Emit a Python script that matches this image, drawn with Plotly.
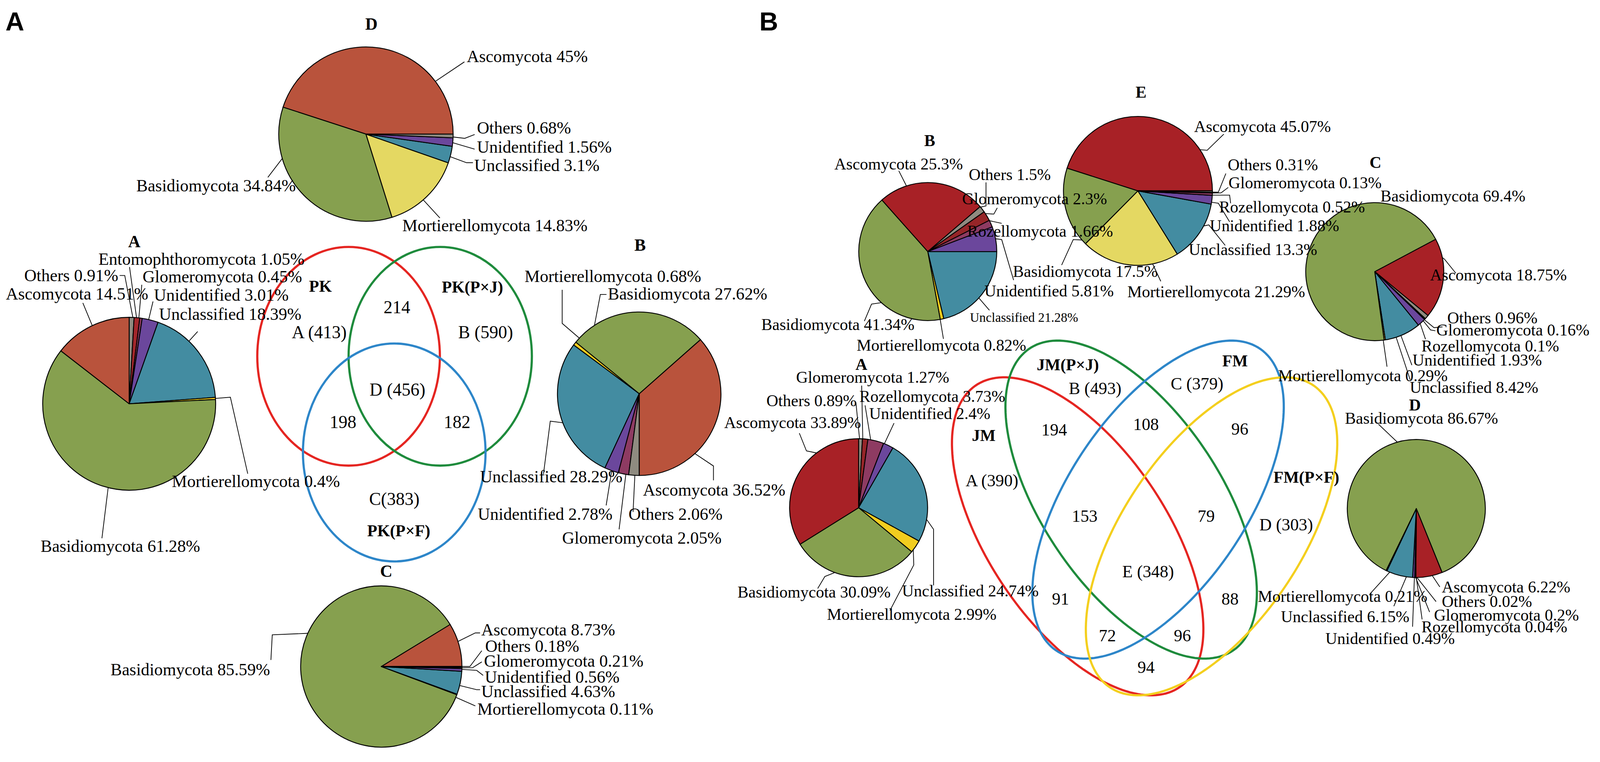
import numpy as np
import plotly.graph_objects as go

# design space = reference pixels
W, H = 4678, 1951
# the browser viewport that is photographed is ~4096 x 1951 css px (body margin 8 px)
FIG_W, FIG_H = 4080, 1930
SX, SY = FIG_W / W, FIG_H / H          # design px -> css px
FS = 0.875                              # font scale (keeps text widths like the reference)
PR = 0.93                               # pie radius scale in css px
LW = 0.93                               # line-width scale

# ------------------------------------------------------------------ data
# Panel A (PK)  -- slices in drawing order
pa_D_labels = ["Ascomycota", "Basidiomycota", "Mortierellomycota", "Unclassified", "Unidentified", "Others"]
pa_D_values = [45, 34.84, 14.83, 3.1, 1.56, 0.68]

pa_A_labels = ["Others", "Entomophthoromycota", "Glomeromycota", "Unidentified", "Unclassified",
               "Mortierellomycota", "Basidiomycota", "Ascomycota"]
pa_A_values = [0.91, 1.05, 0.45, 3.01, 18.39, 0.4, 61.28, 14.51]

pa_B_labels = ["Ascomycota", "Basidiomycota", "Mortierellomycota", "Unclassified", "Unidentified",
               "Glomeromycota", "Others"]
pa_B_values = [36.52, 27.62, 0.68, 28.29, 2.78, 2.05, 2.06]

pa_C_labels = ["Ascomycota", "Basidiomycota", "Mortierellomycota", "Unclassified", "Unidentified",
               "Glomeromycota", "Others"]
pa_C_values = [8.73, 85.59, 0.11, 4.63, 0.56, 0.21, 0.18]

# Panel B (JM / FM)
pb_B_labels = ["Unclassified", "Mortierellomycota", "Basidiomycota", "Ascomycota", "Others",
               "Glomeromycota", "Rozellomycota", "Unidentified"]
pb_B_values = [21.28, 0.82, 41.34, 25.3, 1.5, 2.3, 1.66, 5.81]

pb_E_labels = ["Ascomycota", "Basidiomycota", "Mortierellomycota", "Unclassified", "Unidentified",
               "Rozellomycota", "Glomeromycota", "Others"]
pb_E_values = [45.07, 17.5, 21.29, 13.3, 1.88, 0.52, 0.13, 0.31]

pb_C_labels = ["Ascomycota", "Others", "Glomeromycota", "Rozellomycota", "Unidentified",
               "Unclassified", "Mortierellomycota", "Basidiomycota"]
pb_C_values = [18.75, 0.96, 0.16, 0.1, 1.93, 8.42, 0.29, 69.4]

pb_A_labels = ["Others", "Glomeromycota", "Rozellomycota", "Unidentified", "Unclassified",
               "Mortierellomycota", "Basidiomycota", "Ascomycota"]
pb_A_values = [0.89, 1.27, 3.73, 2.4, 24.74, 2.99, 30.09, 33.89]

pb_D_labels = ["Ascomycota", "Others", "Glomeromycota", "Rozellomycota", "Unidentified",
               "Unclassified", "Mortierellomycota", "Basidiomycota"]
pb_D_values = [6.22, 0.02, 0.2, 0.04, 0.49, 6.15, 0.21, 86.67]

# Venn diagrams
venn_a_sets = ["PK", "PK(P×J)", "PK(P×F)"]
venn_a_region_text = ["A (413)", "B (590)", "C(383)", "214", "198", "182", "D (456)"]
venn_b_sets = ["JM", "JM(P×J)", "FM", "FM(P×F)"]
venn_b_region_text = ["A (390)", "B (493)", "C (379)", "D (303)", "194", "108", "96", "153",
                      "79", "E (348)", "91", "88", "72", "96", "94"]

# ------------------------------------------------------------------ styles
colA = {"Ascomycota": "#B9533C", "Basidiomycota": "#86A04F", "Unclassified": "#438CA1",
        "Unidentified": "#6B479C", "Others": "#8F8B80", "Mortierellomycota": "#F2CD1F",
        "Entomophthoromycota": "#A3272B", "Glomeromycota": "#8E3B62"}
colB = {"Ascomycota": "#A82126", "Basidiomycota": "#86A04F", "Unclassified": "#438CA1",
        "Unidentified": "#6B479C", "Others": "#8F8B80", "Mortierellomycota": "#F2CD1F",
        "Glomeromycota": "#962528", "Rozellomycota": "#8E3B62"}
PALE_YELLOW = "#E4D862"
SERIF = "Liberation Serif"

# layout of each pie: centre, radius, start angle (deg clockwise from 12 o'clock), direction,
# title and label placement (x, y, anchor, leader-line points)
pies = [
    dict(labels=pa_D_labels, values=pa_D_values, pal=colA, mort=PALE_YELLOW,
         c=(1065, 339), r=240, start=90, dir="counterclockwise", title=("D", 1081, 54), fs=50,
         lab={"Ascomycota": (1359, 137, "left", [(1268, 203), (1354, 152)]),
              "Others": (1388, 322, "left", [(1305, 346), (1355, 350), (1384, 340)]),
              "Unidentified": (1388, 372, "left", [(1305, 360), (1384, 378)]),
              "Unclassified": (1381, 420, "left", [(1302, 395), (1360, 413), (1379, 413)]),
              "Mortierellomycota": (1170, 575, "left", [(1235, 511), (1282, 556)]),
              "Basidiomycota": (861, 472, "right", [(828, 400), (777, 451)])}),
    dict(labels=pa_A_labels, values=pa_A_values, pal=colA, mort=None,
         c=(370, 1037), r=238, start=0, dir="clockwise", title=("A", 385, 617), fs=50,
         lab={"Entomophthoromycota": (278, 662, "left", [(392, 810), (371, 683)]),
              "Others": (340, 705, "right", [(381, 810), (357, 705), (342, 705)]),
              "Glomeromycota": (407, 708, "left", [(399, 810), (407, 729)]),
              "Ascomycota": (6, 752, "left", [(266, 843), (234, 776)]),
              "Unidentified": (440, 755, "left", [(429, 812), (440, 772)]),
              "Unclassified": (455, 805, "left", [(541, 879), (571, 850)]),
              "Mortierellomycota": (493, 1237, "left", [(608, 1024), (667, 1020), (718, 1218)]),
              "Basidiomycota": (108, 1405, "left", [(306, 1262), (290, 1385)])}),
    dict(labels=pa_B_labels, values=pa_B_values, pal=colA, mort=None,
         c=(1867, 1011), r=225, start=180, dir="counterclockwise", title=("B", 1870, 626), fs=50,
         lab={"Mortierellomycota": (2051, 707, "right", [(1695, 870), (1641, 829), (1641, 742)]),
              "Basidiomycota": (1773, 752, "left", [(1732, 829), (1753, 754), (1771, 754)]),
              "Ascomycota": (1876, 1260, "left", [(2042, 1177), (2085, 1198), (2085, 1235)]),
              "Unclassified": (1821, 1225, "right", [(1655, 1082), (1606, 1082), (1586, 1219)]),
              "Unidentified": (1791, 1322, "right", [(1778, 1231), (1770, 1300)]),
              "Others": (1833, 1322, "left", [(1853, 1243), (1849, 1317)]),
              "Glomeromycota": (1638, 1384, "left", [(1824, 1240), (1808, 1362)])}),
    dict(labels=pa_C_labels, values=pa_C_values, pal=colA, mort=None,
         c=(1110, 1717), r=222, start=90, dir="counterclockwise", title=("C", 1125, 1470), fs=50,
         lab={"Ascomycota": (1401, 1621, "left", [(1325, 1655), (1386, 1630), (1400, 1630)]),
              "Others": (1413, 1664, "left", [(1332, 1717), (1370, 1717), (1405, 1676)]),
              "Glomeromycota": (1409, 1702, "left", [(1332, 1720), (1378, 1720), (1405, 1705)]),
              "Unidentified": (1411, 1744, "left", [(1332, 1724), (1390, 1727), (1409, 1740)]),
              "Unclassified": (1401, 1781, "left", [(1325, 1763), (1390, 1777), (1400, 1777)]),
              "Mortierellomycota": (1390, 1827, "left", [(1321, 1794), (1386, 1819)]),
              "Basidiomycota": (785, 1725, "right", [(904, 1635), (790, 1635), (786, 1700)])}),
    dict(labels=pb_E_labels, values=pb_E_values, pal=colB, mort=PALE_YELLOW,
         c=(3331, 486), r=205, start=90, dir="counterclockwise", title=("E", 3340, 230), fs=48,
         lab={"Ascomycota": (3494, 319, "left", [(3510, 381), (3534, 381), (3583, 339)]),
              "Others": (3592, 418, "left", [(3530, 489), (3567, 489), (3589, 441)]),
              "Glomeromycota": (3594, 465, "left", [(3530, 491), (3575, 491), (3596, 477)]),
              "Rozellomycota": (3567, 528, "left", [(3530, 496), (3600, 497), (3603, 518)]),
              "Unidentified": (3539, 576, "left", [(3529, 513), (3567, 518), (3600, 566)]),
              "Unclassified": (3477, 638, "left", [(3518, 574), (3539, 574), (3587, 627)]),
              "Mortierellomycota": (3298, 747, "left", [(3379, 697), (3398, 720)]),
              "Basidiomycota": (2962, 694, "left", [(3168, 612), (3141, 612), (3107, 678)])}),
    dict(labels=pb_B_labels, values=pb_B_values, pal=colB, mort=None,
         c=(2714, 643), r=190, start=90, dir="clockwise", title=("B", 2720, 356), fs=48,
         lab={"Ascomycota": (2438, 416, "left", [(2648, 464), (2629, 434)]),
              "Others": (2832, 444, "left", [(2866, 530), (2885, 525), (2885, 464)]),
              "Glomeromycota": (2813, 506, "left", [(2881, 546), (2908, 546), (2918, 530)]),
              "Rozellomycota": (2828, 590, "left", [(2889, 566), (2931, 570)]),
              "Unidentified": (2878, 745, "left", [(2900, 612), (2931, 612), (2966, 717)]),
              "Unclassified": (2835, 813, "left", [(2860, 760), (2895, 795)]),
              "Basidiomycota": (2677, 832, "right", [(2574, 779), (2549, 779), (2528, 823)]),
              "Mortierellomycota": (2503, 886, "left", [(2752, 826), (2760, 869)])},
         small={"Unclassified": 38}),
    dict(labels=pb_C_labels, values=pb_C_values, pal=colB, mort=None,
         c=(4026, 695), r=190, start=62, dir="clockwise", title=("C", 4028, 412), fs=48,
         lab={"Basidiomycota": (4040, 499, "left", None),
              "Ascomycota": (4186, 704, "left", [(4215, 660), (4231, 663), (4264, 699)]),
              "Others": (4236, 815, "left", [(4170, 818), (4200, 840), (4225, 838)]),
              "Glomeromycota": (4205, 846, "left", [(4168, 822), (4190, 846), (4204, 848)]),
              "Rozellomycota": (4161, 888, "left", [(4160, 830), (4175, 870)]),
              "Unidentified": (4135, 924, "left", [(4105, 865), (4135, 937)]),
              "Mortierellomycota": (3740, 964, "left", [(4052, 880), (4062, 941)]),
              "Unclassified": (4127, 995, "left", [(4090, 868), (4130, 975)])}),
    dict(labels=pb_A_labels, values=pb_A_values, pal=colB, mort=None,
         c=(2511, 1306), r=190, start=0, dir="clockwise", title=("A", 2520, 935), fs=48,
         lab={"Glomeromycota": (2325, 968, "left", [(2524, 1117), (2520, 990)]),
              "Others": (2507, 1029, "right", [(2514, 1116), (2503, 1033)]),
              "Rozellomycota": (2511, 1018, "left", [(2549, 1117), (2530, 1041)]),
              "Ascomycota": (2520, 1086, "right", [(2383, 1159), (2358, 1159), (2337, 1113)]),
              "Unidentified": (2540, 1062, "left", [(2590, 1133), (2615, 1087)]),
              "Unclassified": (2636, 1521, "left", [(2702, 1335), (2731, 1362), (2731, 1507)]),
              "Mortierellomycota": (2416, 1582, "left", [(2673, 1416), (2673, 1454), (2603, 1572)]),
              "Basidiomycota": (2607, 1524, "right", [(2437, 1484), (2412, 1484), (2391, 1515)])}),
    dict(labels=pb_D_labels, values=pb_D_values, pal=colB, mort=None,
         c=(4148, 1308), r=190, start=158, dir="clockwise", title=("D", 4144, 1040), fs=48,
         lab={"Basidiomycota": (3936, 1075, "left", [(4090, 1129), (4037, 1090)]),
              "Ascomycota": (4221, 1511, "left", [(4195, 1482), (4217, 1511)]),
              "Others": (4221, 1549, "left", [(4150, 1498), (4206, 1549)]),
              "Glomeromycota": (4198, 1584, "left", [(4146, 1498), (4187, 1576)]),
              "Rozellomycota": (4161, 1614, "left", [(4148, 1498), (4165, 1595)]),
              "Unidentified": (3879, 1645, "left", [(4142, 1498), (4137, 1614)]),
              "Unclassified": (3748, 1588, "left", [(4117, 1496), (4082, 1561)]),
              "Mortierellomycota": (3680, 1536, "left", [(4068, 1477), (4011, 1530)])}),
]

# Venn A: circles (centre x, centre y, rx, ry, colour)
venn_a_shapes = [(1014, 914, 268, 283, "#E52521"), (1283, 914, 269, 283, "#1E8B3C"),
                 (1148, 1163, 268, 282, "#2D86C9")]
venn_a_set_pos = [(932, 733), (1378, 735), (1162, 1366)]
venn_a_region_pos = [(928, 852), (1416, 852), (1148, 1283), (1156, 787), (997, 1084),
                     (1332, 1084), (1158, 1000)]
# Venn B: rotated ellipses (cx, cy, a, b, angle deg, colour)
venn_b_shapes = [(3154, 1380, 493, 250, 50.3, "#E52521"), (3311, 1285, 493, 250, 50.3, "#1E8B3C"),
                 (3390, 1285, 493, 250, -50.3, "#2D86C9"), (3547, 1380, 493, 250, -50.3, "#F4CF1E")]
venn_b_set_pos = [(2878, 1119), (3125, 937), (3616, 926), (3826, 1228)]
venn_b_region_pos = [(2903, 1236), (3205, 997), (3505, 985), (3766, 1350), (3085, 1104),
                     (3355, 1090), (3630, 1102), (3175, 1327), (3531, 1327), (3361, 1471),
                     (3104, 1542), (3601, 1542), (3241, 1637), (3461, 1637), (3355, 1718)]

# ------------------------------------------------------------------ figure
fig = go.Figure()
fig.add_trace(go.Scatter(x=[0, W], y=[0, H], mode="markers", marker=dict(opacity=0),
                         hoverinfo="skip", showlegend=False))

shapes, annotations = [], []


def txt(x, y, s, size, anchor="center", bold=False, family=SERIF):
    annotations.append(dict(x=x, y=y, xref="x", yref="y", text=("<b>%s</b>" % s) if bold else s,
                            showarrow=False, xanchor=anchor, yanchor="middle",
                            font=dict(family=family, size=size * FS, color="black")))


for p in pies:
    cx, cy = p["c"]
    r = p["r"]
    ax_, ay_ = r * PR / SX, r * PR / SY       # pie radius expressed in design units
    colors = [p["mort"] if (lb == "Mortierellomycota" and p["mort"]) else p["pal"][lb]
              for lb in p["labels"]]
    total = float(sum(p["values"]))
    if p["dir"] == "counterclockwise":
        # plotly puts the first slice clockwise of `rotation` in ccw mode
        rot = p["start"] - 360.0 * p["values"][0] / total
    else:
        rot = p["start"]
    fig.add_trace(go.Pie(labels=p["labels"], values=p["values"], sort=False,
                         direction=p["dir"], rotation=rot, textinfo="none",
                         marker=dict(colors=colors, line=dict(color="black", width=2.5 * LW)),
                         domain=dict(x=[(cx - ax_) / W, (cx + ax_) / W],
                                     y=[1 - (cy + ay_) / H, 1 - (cy - ay_) / H]),
                         showlegend=False, hoverinfo="label+percent"))
    t, tx, ty = p["title"]
    txt(tx, ty, t, p["fs"], bold=True)
    small = p.get("small", {})
    for lb, v in zip(p["labels"], p["values"]):
        x, y, anc, pts = p["lab"][lb]
        txt(x, y, "%s %s%%" % (lb, format(v, "g")), small.get(lb, p["fs"]), anchor=anc)
        if pts:
            dx, dy = pts[0][0] - cx, pts[0][1] - cy
            s = 1.0 / np.sqrt((dx / ax_) ** 2 + (dy / ay_) ** 2)
            ex, ey = cx + dx * s, cy + dy * s
            path = "M %.1f %.1f " % (ex, ey) + " ".join("L %.1f %.1f" % q for q in pts[1:])
            shapes.append(dict(type="path", xref="x", yref="y", path=path, layer="above",
                               line=dict(color="black", width=2 * LW)))

# Venn A
for (vx, vy, rx, ry, col) in venn_a_shapes:
    shapes.append(dict(type="circle", xref="x", yref="y", x0=vx - rx, x1=vx + rx,
                       y0=vy - ry, y1=vy + ry, line=dict(color=col, width=6 * LW), layer="above"))
for s_, (x, y) in zip(venn_a_sets, venn_a_set_pos):
    txt(x, y, s_, 48, bold=True)
for s_, (x, y) in zip(venn_a_region_text, venn_a_region_pos):
    txt(x, y, s_, 52)

# Venn B
tt = np.linspace(0, 2 * np.pi, 181)
for (vx, vy, a, b, ang, col) in venn_b_shapes:
    ph = np.radians(ang)
    xs = vx + a * np.cos(tt) * np.cos(ph) - b * np.sin(tt) * np.sin(ph)
    ys = vy + a * np.cos(tt) * np.sin(ph) + b * np.sin(tt) * np.cos(ph)
    path = "M " + " L ".join("%.1f %.1f" % (u, w) for u, w in zip(xs, ys)) + " Z"
    shapes.append(dict(type="path", xref="x", yref="y", path=path,
                       line=dict(color=col, width=6 * LW), layer="above"))
for s_, (x, y) in zip(venn_b_sets, venn_b_set_pos):
    txt(x, y, s_, 48, bold=True)
for s_, (x, y) in zip(venn_b_region_text, venn_b_region_pos):
    txt(x, y, s_, 50)

# panel letters
for letter, lx in (("A", 5), ("B", 2218)):
    annotations.append(dict(x=lx, y=8, xref="x", yref="y", text="<b>%s</b>" % letter,
                            showarrow=False, xanchor="left", yanchor="top",
                            font=dict(family="Liberation Sans", size=76 * FS, color="black")))

fig.update_layout(
    width=FIG_W, height=FIG_H, margin=dict(l=0, r=0, t=0, b=0),
    paper_bgcolor="white", plot_bgcolor="white", showlegend=False,
    xaxis=dict(range=[0, W], visible=False, fixedrange=True, domain=[0, 1]),
    yaxis=dict(range=[H, 0], visible=False, fixedrange=True, domain=[0, 1]),
    shapes=shapes, annotations=annotations,
)

fig.write_html("out.html")
